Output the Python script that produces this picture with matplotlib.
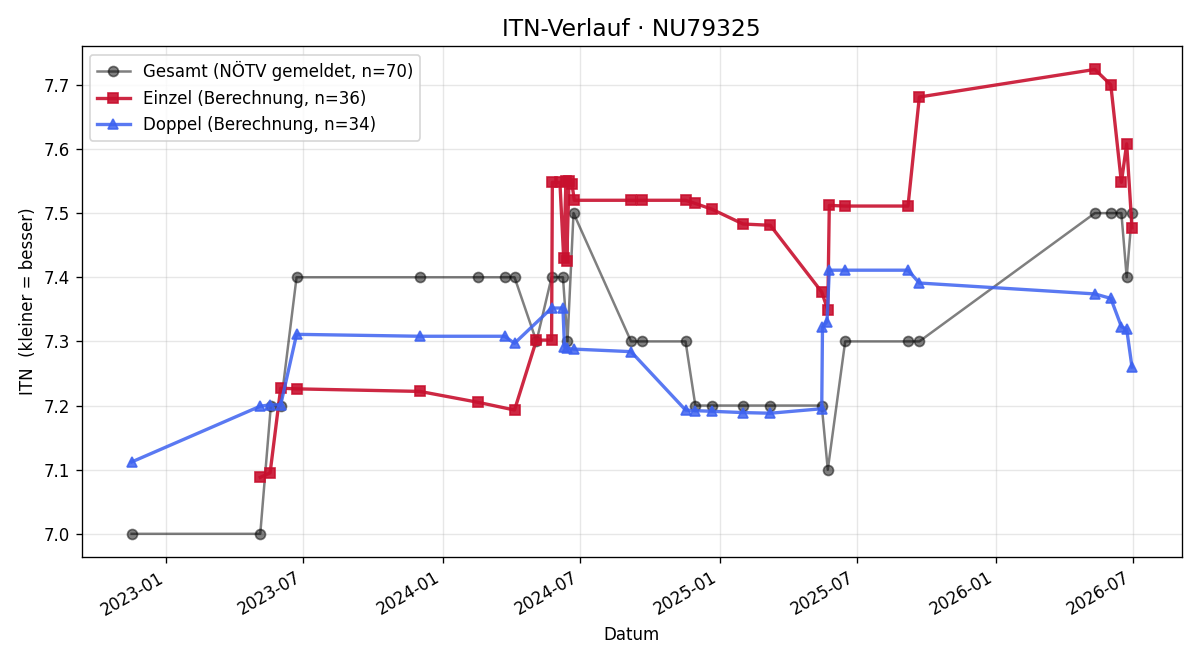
import numpy as np
import pandas as pd
import matplotlib
matplotlib.use("Agg")
import matplotlib.pyplot as plt
import matplotlib.dates as mdates

# Gesamt (NÖTV gemeldet)
gesamt_dates = ["2022-11-16", "2023-05-05", "2023-05-19", "2023-06-01", "2023-06-22",
                "2023-12-02", "2024-02-17", "2024-03-23", "2024-04-05", "2024-05-04",
                "2024-05-24", "2024-06-08", "2024-06-14", "2024-06-22", "2024-09-06",
                "2024-09-21", "2024-11-17", "2024-11-30", "2024-12-22", "2025-02-01",
                "2025-03-09", "2025-05-16", "2025-05-24", "2025-06-16", "2025-09-07",
                "2025-09-22", "2026-05-12", "2026-06-02", "2026-06-16", "2026-06-23",
                "2026-06-30"]
gesamt_itn = [7.0, 7.0, 7.2, 7.2, 7.4,
              7.4, 7.4, 7.4, 7.4, 7.3,
              7.4, 7.4, 7.3, 7.5, 7.3,
              7.3, 7.3, 7.2, 7.2, 7.2,
              7.2, 7.2, 7.1, 7.3, 7.3,
              7.3, 7.5, 7.5, 7.5, 7.4,
              7.5]

# Einzel (Berechnung)
einzel_dates = ["2023-05-05", "2023-05-18", "2023-06-01", "2023-06-22", "2023-12-02",
                "2024-02-17", "2024-04-05", "2024-05-04", "2024-05-24", "2024-05-25",
                "2024-06-04", "2024-06-09", "2024-06-12", "2024-06-13", "2024-06-16",
                "2024-06-20", "2024-06-23", "2024-09-06", "2024-09-21", "2024-11-17",
                "2024-11-30", "2024-12-22", "2025-02-01", "2025-03-09", "2025-05-16",
                "2025-05-24", "2025-05-26", "2025-06-16", "2025-09-07", "2025-09-22",
                "2026-05-12", "2026-06-02", "2026-06-16", "2026-06-23", "2026-06-30"]
einzel_itn = [7.088, 7.095, 7.227, 7.226, 7.222,
              7.205, 7.193, 7.302, 7.302, 7.548,
              7.548, 7.430, 7.550, 7.425, 7.550,
              7.545, 7.520, 7.520, 7.520, 7.520,
              7.515, 7.506, 7.483, 7.481, 7.377,
              7.349, 7.512, 7.511, 7.511, 7.681,
              7.724, 7.700, 7.548, 7.608, 7.477]

# Doppel (Berechnung)
doppel_dates = ["2022-11-16", "2023-05-05", "2023-05-18", "2023-06-01", "2023-06-22",
                "2023-12-02", "2024-03-23", "2024-04-05", "2024-05-24", "2024-06-08",
                "2024-06-10", "2024-06-14", "2024-06-22", "2024-09-06", "2024-11-17",
                "2024-11-30", "2024-12-22", "2025-02-01", "2025-03-09", "2025-05-16",
                "2025-05-17", "2025-05-23", "2025-05-26", "2025-06-16", "2025-09-07",
                "2025-09-22", "2026-05-12", "2026-06-02", "2026-06-16", "2026-06-23",
                "2026-06-30"]
doppel_itn = [7.112, 7.199, 7.201, 7.201, 7.311,
              7.308, 7.308, 7.297, 7.352, 7.352,
              7.292, 7.289, 7.288, 7.284, 7.193,
              7.192, 7.191, 7.189, 7.188, 7.195,
              7.322, 7.331, 7.411, 7.411, 7.411,
              7.391, 7.374, 7.367, 7.323, 7.319,
              7.260]

fig, ax = plt.subplots(figsize=(10, 5.5), dpi=120)

ax.plot(pd.to_datetime(gesamt_dates), gesamt_itn, marker="o", markersize=6, linewidth=1.5,
        color="black", alpha=0.5, label="Gesamt (NÖTV gemeldet, n=70)")
ax.plot(pd.to_datetime(einzel_dates), einzel_itn, marker="s", markersize=6, linewidth=2,
        color="#c8102e", alpha=0.9, label="Einzel (Berechnung, n=36)")
ax.plot(pd.to_datetime(doppel_dates), doppel_itn, marker="^", markersize=6, linewidth=2,
        color="#3d62f0", alpha=0.85, label="Doppel (Berechnung, n=34)")

ax.set_title("ITN-Verlauf · NU79325", fontsize=14)
ax.set_xlabel("Datum")
ax.set_ylabel("ITN  (kleiner = besser)")
ax.grid(alpha=0.3)
ax.legend(loc="upper left")

ax.xaxis.set_major_locator(mdates.MonthLocator(bymonth=[1, 7]))
ax.xaxis.set_major_formatter(mdates.DateFormatter("%Y-%m"))
fig.autofmt_xdate()

fig.subplots_adjust(left=0.068, right=0.985, top=0.930, bottom=0.156)
fig.savefig("out.png")
